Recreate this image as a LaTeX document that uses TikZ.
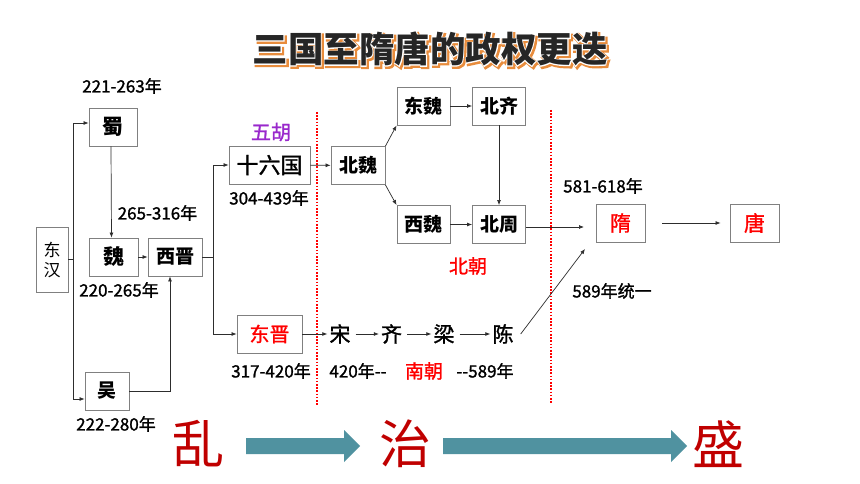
\documentclass[tikz,border=0pt]{standalone}
\usepackage{fontspec}
\setmainfont{Noto Sans CJK SC}
\newfontfamily\medfont{Noto Sans CJK SC}[FakeBold=1.3]
\newfontfamily\titleO{Noto Sans CJK SC}[BoldFeatures={FakeBold=9}]
\newfontfamily\titleW{Noto Sans CJK SC}[BoldFeatures={FakeBold=4.5}]
\usetikzlibrary{arrows.meta,calc}
\definecolor{boxgray}{RGB}{128,128,128}
\definecolor{lineg}{RGB}{45,45,45}
\definecolor{dred}{RGB}{192,0,0}
\definecolor{vred}{RGB}{255,0,0}
\definecolor{hupurple}{RGB}{153,40,204}
\definecolor{tealarrow}{RGB}{80,146,160}
\definecolor{titleorange}{RGB}{232,140,60}
\definecolor{titledark}{RGB}{38,38,38}
\newcommand{\fsz}[1]{\fontsize{#1}{#1}\selectfont}
\tikzset{
  bx/.style={draw=boxgray, line width=0.9pt, fill=white, inner sep=0pt,
    minimum height=38pt, font=\bfseries\fsz{19}},
  conn/.style={draw=lineg, line width=0.7pt, -{Latex[length=5pt,width=4pt]}},
  plainline/.style={draw=lineg, line width=0.7pt},
  yr/.style={font=\medfont\fsz{17}, inner sep=0pt, text=black},
  dyn/.style={font=\medfont\fsz{21}, inner sep=2pt},
  redlbl/.style={font=\medfont\fsz{19}, text=vred, inner sep=0pt},
  bigchar/.style={font=\fsz{52}, text=dred, inner sep=0pt},
  divider/.style={draw=vred, line width=1.8pt, dash pattern=on 1.6pt off 1.6pt},
  bigarrow/.style={fill=tealarrow, draw=none},
  titlefont/.style={font=\bfseries\fsz{35.5}, inner sep=0pt},
}
\begin{document}
\begin{tikzpicture}[x=1pt,y=-1pt]
\useasboundingbox (0,0) rectangle (860,484);
\fill[white] (0,0) rectangle (860,484);

% title with outline and shadow
\node[font=\titleO\bfseries\fsz{35.5}, inner sep=0pt, text=titleorange] (tshadow) at (431.5,50.5) {三国至隋唐的政权更迭};
\node[font=\titleW\bfseries\fsz{35.5}, inner sep=0pt, text=white] (twhite) at (430,49) {三国至隋唐的政权更迭};
\node[titlefont, text=titledark] (title) at (430,49) {三国至隋唐的政权更迭};

% dividers
\draw[divider] (317,112) -- (317,405);
\draw[divider] (551,110) -- (551,403);

% boxes
\node[bx, minimum width=32pt, minimum height=65pt, align=center,
  font=\fontsize{17}{20}\selectfont] (dh) at (52,259.5) {东\\汉};
\node[bx, minimum width=48pt, font=\bfseries\fsz{21}] (shu) at (113,127) {蜀};
\node[bx, minimum width=49pt, font=\bfseries\fsz{21}] (wei) at (113.5,257) {魏};
\node[bx, minimum width=54pt] (xj) at (175,257) {西晋};
\node[bx, minimum width=44pt] (wu) at (107,391) {吴};
\node[bx, minimum width=81pt, font=\medfont\fsz{22}] (sl) at (269.5,165) {十六国};
\node[bx, minimum width=65pt, text=vred, font=\medfont\fsz{20}] (dj) at (269.5,334) {东晋};
\node[bx, minimum width=54pt] (bw) at (358,165.5) {北魏};
\node[bx, minimum width=53pt] (dw) at (423.5,106) {东魏};
\node[bx, minimum width=53pt] (bq) at (499,106) {北齐};
\node[bx, minimum width=53pt] (xw) at (423.5,224.5) {西魏};
\node[bx, minimum width=53pt] (bz) at (499,224.5) {北周};
\node[bx, minimum width=49pt, text=vred, font=\medfont\fsz{21}] (sui) at (620.5,223) {隋};
\node[bx, minimum width=49pt, text=vred, font=\medfont\fsz{21}] (tang) at (754.5,223) {唐};

% southern dynasties
\node[dyn] (song) at (340,334) {宋};
\node[dyn] (qi) at (391.5,334) {齐};
\node[dyn] (liang) at (444,334) {梁};
\node[dyn] (chen) at (503,334) {陈};

% labels
\node[font=\medfont\fsz{20}, text=hupurple, inner sep=0pt] (wuhu) at (271,132) {五胡};
\node[redlbl] (beichao) at (468,266) {北朝};
\node[redlbl] (nanchao) at (424,371) {南朝};
\node[yr] (y1) at (122,86) {221-263年};
\node[yr] (y2) at (157.5,213) {265-316年};
\node[yr] (y3) at (119,290) {220-265年};
\node[yr] (y4) at (116,424) {222-280年};
\node[yr] (y5) at (269,198) {304-439年};
\node[yr] (y6) at (271,371) {317-420年};
\node[yr] (y7) at (358,371) {420年-{}-};
\node[yr] (y8) at (485,371) {-{}-589年};
\node[yr] (y9) at (603,186) {581-618年};
\node[yr] (y10) at (612,291) {589年统一};

% big characters and arrows
\node[bigchar] (luan) at (198,444) {乱};
\node[bigchar] (zhi) at (405,444) {治};
\node[bigchar] (sheng) at (718,444) {盛};
\fill[bigarrow] (246,438) -- (344,438) -- (344,430) -- (360,446) -- (344,462) -- (344,454) -- (246,454) -- cycle;
\fill[bigarrow] (443,438) -- (671,438) -- (671,430) -- (687,446) -- (671,462) -- (671,454) -- (443,454) -- cycle;

% connectors
\coordinate (dhj) at (73,259.5);
\draw[plainline] (dh.east) -- (dhj);
\draw[conn] (dhj) |- ([yshift=4pt]shu.west);
\draw[conn] (dhj) |- ([yshift=-8pt]wu.west);
\draw[conn] ([xshift=-2pt]shu.south) -- ([xshift=-2pt]wei.north);
\draw[conn] (wei) -- (xj);
\draw[conn] (wu.east) -| ([xshift=-5pt]xj.south);
\coordinate (xjj) at (213,257);
\draw[plainline] (xj.east) -- (xjj);
\draw[conn] (xjj) |- (sl);
\draw[conn] (xjj) |- (dj);
\draw[conn] (sl) -- (bw);
\draw[conn] (bw.north east) -- (dw.south west);
\draw[conn] (bw.south east) -- (xw.north west);
\draw[conn] (dw) -- (bq);
\draw[conn] (xw) -- (bz);
\draw[conn] (bq) -- (bz);
\coordinate (suiin) at (584,227);
\draw[conn] ([yshift=-2.5pt]bz.east) -- (suiin);
\coordinate (suiin2) at (585,249);
\draw[conn] ($(chen.east)+(5,0)$) -- (suiin2);
\draw[conn, shorten <=17pt, shorten >=9pt] (sui) -- (tang);
\draw[conn] (dj) -- (song);
\draw[conn, shorten <=3pt] (song) -- (qi);
\draw[conn, shorten <=3pt] (qi) -- (liang);
\draw[conn, shorten <=3pt] (liang) -- (chen);
\end{tikzpicture}
\end{document}
